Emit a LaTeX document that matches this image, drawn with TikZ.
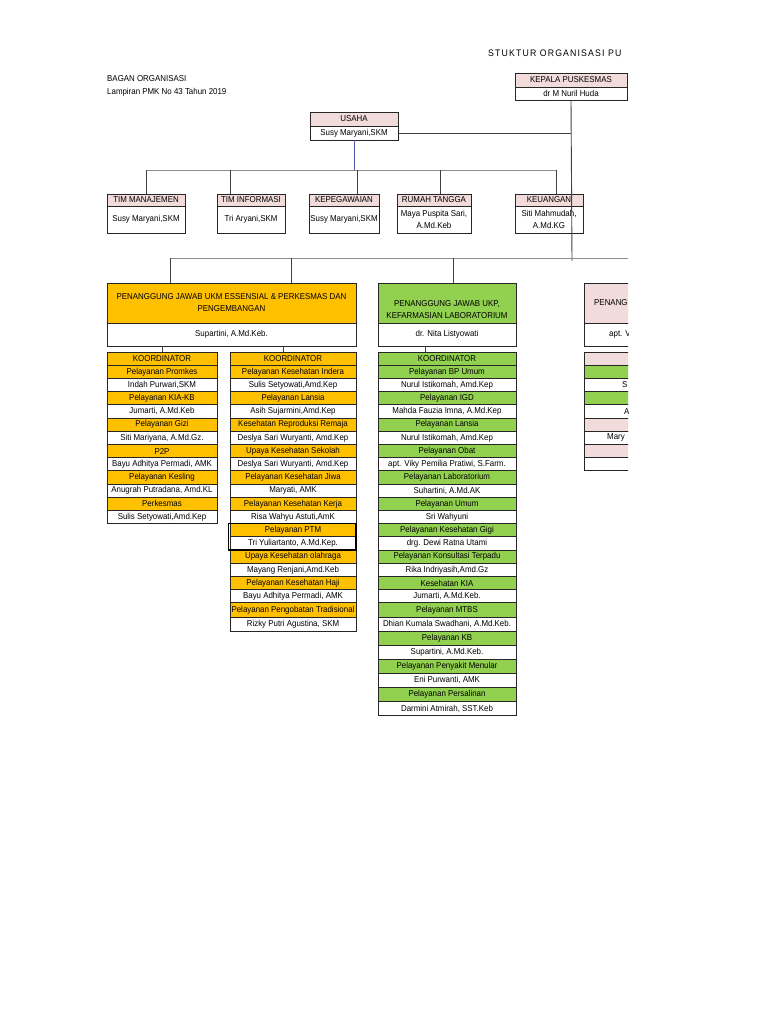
\documentclass[tikz,border=0pt]{standalone}
\usepackage{fontspec}
\setmainfont{Liberation Sans}[FakeStretch=0.92]
\usetikzlibrary{positioning}

\definecolor{pinkhd}{HTML}{F2DCDB}
\definecolor{orahd}{HTML}{FFC000}
\definecolor{grnhd}{HTML}{92D050}
\newcommand\cellfont{\fontsize{8.6}{12}\selectfont}

\begin{document}
\begin{tikzpicture}[x=1pt, y=-1pt,
  cell/.style={draw=black!85, line width=0.8pt, inner sep=0pt, outer sep=0pt, anchor=north west, font=\cellfont, align=center},
  hd/.style={cell, fill=pinkhd},
  nm/.style={cell, fill=white},
  link/.style={draw=black!75, line width=0.9pt},
  bus/.style={draw=black!45, line width=0.9pt},
  note/.style={font=\cellfont, anchor=west, inner sep=0pt}
]
\useasboundingbox[fill=white] (0,0) rectangle (768,1024);

% Judul
\node[note, font={\fontsize{9.5}{11}\selectfont\addfontfeatures{LetterSpace=12}}] (judul) at (488,53) {STUKTUR ORGANISASI PU};
\node[note] (bagan) at (107,79) {BAGAN ORGANISASI};
\node[note] (lampiran) at (107,92) {Lampiran PMK No 43 Tahun 2019};

\begin{scope}
\clip (0,0) rectangle (628,1024);

% Pimpinan
\node[hd, minimum width=112, minimum height=14] (kepala) at (515,73) {KEPALA PUSKESMAS};
\node[nm, minimum width=112, minimum height=13, below=0pt of kepala] (kepalaN) {dr M Nuril Huda};
\node[hd, minimum width=88, minimum height=14] (usaha) at (310,112) {USAHA};
\node[nm, minimum width=88, minimum height=14, below=0pt of usaha] (usahaN) {Susy Maryani,SKM};

% Baris tim
\node[hd, minimum width=78, minimum height=12] (tim1) at (107,194) {TIM MANAJEMEN};
\node[nm, minimum width=78, minimum height=27, below=0pt of tim1] (tim1N) {Susy Maryani,SKM};
\node[hd, minimum width=68, minimum height=12] (tim2) at (217,194) {TIM INFORMASI};
\node[nm, minimum width=68, minimum height=27, below=0pt of tim2] (tim2N) {Tri Aryani,SKM};
\node[hd, minimum width=70, minimum height=12] (tim3) at (309,194) {KEPEGAWAIAN};
\node[nm, minimum width=70, minimum height=27, below=0pt of tim3] (tim3N) {Susy Maryani,SKM};
\node[hd, minimum width=74, minimum height=12] (tim4) at (397,194) {RUMAH TANGGA};
\node[nm, minimum width=74, minimum height=27, below=0pt of tim4] (tim4N) {Maya Puspita Sari,\\A.Md.Keb};
\node[hd, minimum width=68, minimum height=12] (tim5) at (515,194) {KEUANGAN};
\node[nm, minimum width=68, minimum height=27, below=0pt of tim5] (tim5N) {Siti Mahmudah,\\A.Md.KG};

% Penanggung jawab
\node[cell, fill=orahd, minimum width=249, minimum height=40] (ukm) at (107,283) {PENANGGUNG JAWAB UKM ESSENSIAL \& PERKESMAS DAN\\PENGEMBANGAN};
\node[nm, minimum width=249, minimum height=23, below=0pt of ukm] (ukmN) {Supartini, A.Md.Keb.};
\node[cell, fill=grnhd, minimum width=138, minimum height=40] (ukp) at (378,283) {\rule{0pt}{20pt}PENANGGUNG JAWAB UKP,\\KEFARMASIAN LABORATORIUM};
\node[nm, minimum width=138, minimum height=23, below=0pt of ukp] (ukpN) {dr. Nita Listyowati};
\node[hd, minimum width=100, minimum height=40] (pj3) at (584,283) {};
\node[nm, minimum width=100, minimum height=23, below=0pt of pj3] (pj3N) {};
\node[note] at ([xshift=10pt]pj3.west) {PENANG};
\node[note] at ([xshift=25pt]pj3N.west) {apt. V};

% Kolom A
\foreach \txt/\clr [count=\i from 0] in {KOORDINATOR/orahd, Pelayanan Promkes/orahd, {Indah Purwari,SKM}/white,
  Pelayanan KIA-KB/orahd, {Jumarti, A.Md.Keb}/white, Pelayanan Gizi/orahd, {Siti Mariyana, A.Md.Gz.}/white,
  P2P/orahd, {Bayu Adhitya Permadi, AMK}/white, Pelayanan Kesling/orahd, {Anugrah Putradana, Amd.KL}/white,
  Perkesmas/orahd, {Sulis Setyowati,Amd.Kep}/white}
  \node[cell, fill=\clr, minimum width=110, minimum height=13.2] (ka\i) at (107,352+13.2*\i) {\txt};

% Kolom B
\foreach \txt/\clr [count=\i from 0] in {KOORDINATOR/orahd, Pelayanan Kesehatan Indera/orahd, {Sulis Setyowati,Amd.Kep}/white,
  Pelayanan Lansia/orahd, {Asih Sujarmini,Amd.Kep}/white, Kesehatan Reproduksi Remaja/orahd, {Deslya Sari Wuryanti, Amd.Kep}/white,
  Upaya Kesehatan Sekolah/orahd, {Deslya Sari Wuryanti, Amd.Kep}/white, Pelayanan Kesehatan Jiwa/orahd, {Maryati, AMK}/white,
  Pelayanan Kesehatan Kerja/orahd, {Risa Wahyu Astuti,AmK}/white, Pelayanan PTM/orahd, {Tri Yuliartanto, A.Md.Kep.}/white,
  Upaya Kesehatan olahraga/orahd, {Mayang Renjani,Amd.Keb}/white, Pelayanan Kesehatan Haji/orahd, {Bayu Adhitya Permadi, AMK}/white,
  Pelayanan Pengobatan Tradisional/orahd, {Rizky Putri Agustina, SKM}/white}
{
  \pgfmathsetmacro\ytop{\i<19 ? 352+13.2*\i : 602.8+14.1*(\i-19)}
  \pgfmathsetmacro\hgt{\i<19 ? 13.2 : 14.1}
  \node[cell, fill=\clr, minimum width=126, minimum height=\hgt] (kb\i) at (230,\ytop) {\txt};
}
\draw[line width=1.4pt] ([xshift=-1.5pt]kb13.north west) rectangle (kb14.south east);

% Kolom C
\foreach \txt/\clr [count=\i from 0] in {KOORDINATOR/grnhd, Pelayanan BP Umum/grnhd, {Nurul Istikomah, Amd.Kep}/white,
  Pelayanan IGD/grnhd, {Mahda Fauzia Imna, A.Md.Kep}/white, Pelayanan Lansia/grnhd, {Nurul Istikomah, Amd.Kep}/white,
  Pelayanan Obat/grnhd, {apt. Viky Pemilia Pratiwi, S.Farm.}/white, Pelayanan Laboratorium/grnhd, {Suhartini, A.Md.AK}/white,
  Pelayanan Umum/grnhd, Sri Wahyuni/white, Pelayanan Kesehatan Gigi/grnhd, {drg. Dewi Ratna Utami}/white,
  Pelayanan Konsultasi Terpadu/grnhd, {Rika Indriyasih,Amd.Gz}/white, Kesehatan KIA/grnhd, {Jumarti, A.Md.Keb.}/white,
  Pelayanan MTBS/grnhd, {Dhian Kumala Swadhani, A.Md.Keb.}/white, Pelayanan KB/grnhd, {Supartini, A.Md.Keb.}/white,
  Pelayanan Penyakit Menular/grnhd, {Eni Purwanti, AMK}/white, Pelayanan Persalinan/grnhd, {Darmini Atmirah, SST.Keb}/white}
{
  \pgfmathsetmacro\ytop{\i<19 ? 352+13.2*\i : 602.8+14.1*(\i-19)}
  \pgfmathsetmacro\hgt{\i<19 ? 13.2 : 14.1}
  \node[cell, fill=\clr, minimum width=138, minimum height=\hgt] (kc\i) at (378,\ytop) {\txt};
}

% Kolom D (terpotong)
\foreach \clr [count=\i from 0] in {pinkhd, grnhd, white, grnhd, white, pinkhd, white, pinkhd, white}
  \node[cell, fill=\clr, minimum width=100, minimum height=13.2] (kd\i) at (584,352+13.2*\i) {};
\node[note] at ([xshift=38pt]kd2.west) {S};
\node[note] at ([xshift=40pt]kd4.west) {A};
\node[note] at ([xshift=23pt]kd6.west) {Mary};

% Garis hubung
\coordinate (jalur1) at (0,170);
\coordinate (jalur2) at (640,258);
\coordinate (ujung) at (572,261);
\draw[link] (kepalaN.south) -- (ujung);
\draw[link] (usahaN.east) -- (usahaN.east -| kepalaN.south);
\draw[link, draw=blue!35!gray] (usahaN.south) -- (usahaN.south |- jalur1);
\draw[bus] (tim1.north |- jalur1) -- ([xshift=7pt]tim5.north |- jalur1);
\foreach \n/\dx in {tim1/0, tim2/-21, tim3/13, tim4/6, tim5/7}
  \draw[link] ([xshift=\dx pt]\n.north) -- ([xshift=\dx pt]\n.north |- jalur1);
\draw[bus] ([xshift=-61.5pt]ukm.north |- jalur2) -- (jalur2);
\foreach \n/\dx in {ukm/-61.5, ukm/59.5, ukp/6}
  \draw[link] ([xshift=\dx pt]\n.north) -- ([xshift=\dx pt]\n.north |- jalur2);
\draw[link] (ka0.north) -- (ka0.north |- ukmN.south);
\draw[link] ([xshift=-10pt]kb0.north) -- ([xshift=-10pt]kb0.north |- ukmN.south);
\draw[link] ([xshift=-22pt]kc0.north) -- ([xshift=-22pt]kc0.north |- ukpN.south);
\end{scope}
\end{tikzpicture}
\end{document}
